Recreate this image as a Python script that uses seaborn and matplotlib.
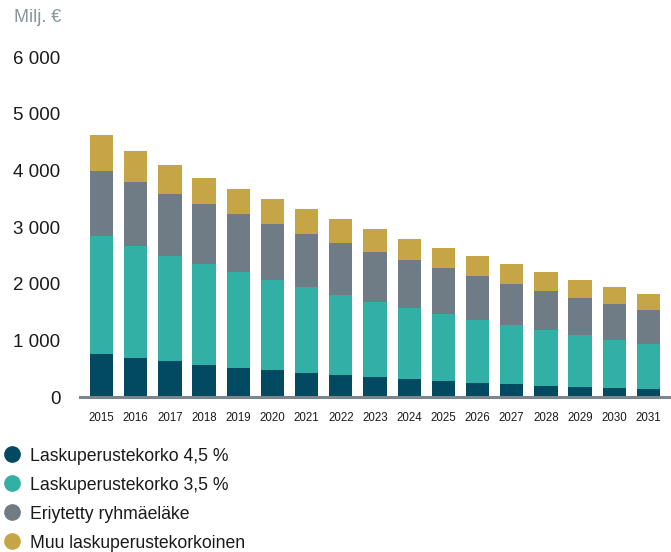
import matplotlib
matplotlib.use("Agg")
import matplotlib.pyplot as plt
from matplotlib.lines import Line2D
import seaborn as sns
import pandas as pd
import numpy as np

years = [str(y) for y in range(2015, 2032)]
rate_45 = [755, 690, 635, 565, 510, 475, 425, 387, 352, 317, 282, 246, 229, 194, 176, 158, 141]
rate_35 = [2080, 1970, 1848, 1777, 1690, 1585, 1512, 1409, 1321, 1250, 1179, 1110, 1039, 986, 916, 846, 792]
separated = [1145, 1127, 1092, 1056, 1021, 986, 933, 915, 880, 845, 810, 774, 721, 686, 651, 633, 599]
other = [650, 546, 511, 475, 458, 440, 440, 423, 405, 370, 352, 352, 352, 334, 317, 300, 281]

series_names = ["Laskuperustekorko 4,5 %", "Laskuperustekorko 3,5 %",
                "Eriytetty ryhmäeläke", "Muu laskuperustekorkoinen"]
colors = ["#024a62", "#33b0a5", "#6f7c85", "#c5a546"]
yticks = [0, 1000, 2000, 3000, 4000, 5000, 6000]
ytick_labels = ["0", "1 000", "2 000", "3 000", "4 000", "5 000", "6 000"]
unit_label = "Milj. €"

sns.set_style("white")
plt.rcParams["font.family"] = ["Liberation Sans", "DejaVu Sans"]

df = pd.DataFrame({"year": years, "a": rate_45, "b": rate_35, "c": separated, "d": other})
df["cum_a"] = df["a"]
df["cum_b"] = df["cum_a"] + df["b"]
df["cum_c"] = df["cum_b"] + df["c"]
df["cum_d"] = df["cum_c"] + df["d"]

fig = plt.figure(figsize=(6.71, 5.52), dpi=100)
ax = fig.add_axes([80 / 671, 1 - 397 / 552, 590 / 671, 340 / 552])

for col, c in zip(["cum_d", "cum_c", "cum_b", "cum_a"], colors[::-1]):
    sns.barplot(data=df, x="year", y=col, order=years, color=c, saturation=1,
                width=0.68, errorbar=None, ax=ax, linewidth=0)

ax.set_xlim(-0.63, len(years) - 1 + 0.63)
ax.set_ylim(0, 6000)
ax.set_yticks(yticks)
ax.set_yticklabels(ytick_labels)
ax.set_xlabel("")
ax.set_ylabel("")
for s in ["top", "right", "left"]:
    ax.spines[s].set_visible(False)
ax.spines["bottom"].set_color("#7a858c")
ax.spines["bottom"].set_linewidth(2.2)
ax.tick_params(axis="y", length=0, labelsize=13.5, pad=14, labelcolor="#1a1a1a")
ax.tick_params(axis="x", length=0, labelsize=8.3, pad=11, labelcolor="#1a1a1a")
ax.grid(False)

fig.text(14 / 671, 1 - 18 / 552, unit_label, fontsize=13, color="#8a949b",
         ha="left", va="center")

handles = [Line2D([0], [0], marker="o", linestyle="", markersize=11,
                  markerfacecolor=c, markeredgecolor=c) for c in colors]
fig.legend(handles, series_names, loc="upper left",
           bbox_to_anchor=(-0.002, 1 - 444 / 552), frameon=False, fontsize=12.7,
           handletextpad=0.45, labelspacing=0.68, handlelength=1.1,
           borderaxespad=0, borderpad=0.2, labelcolor="#1a1a1a")

fig.savefig("out.png", dpi=100)
